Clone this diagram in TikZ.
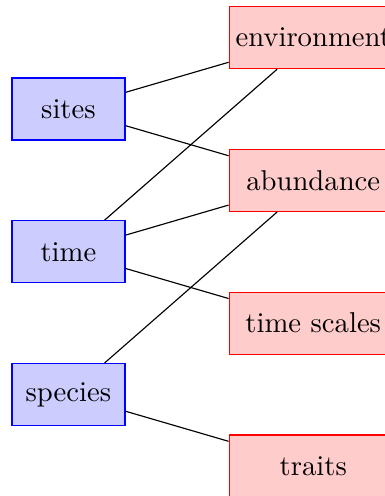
\documentclass[tikz,border=0pt]{standalone}
\usepackage{tikz}
\usetikzlibrary{positioning}

\tikzset{
  leftbox/.style={draw=blue,fill=blue!20,rectangle,minimum width=1.385cm,minimum height=0.76cm},
  rightbox/.style={draw=red,fill=red!20,rectangle,inner xsep=2pt,minimum width=2.06cm,minimum height=0.76cm}
}

\begin{document}
\begin{tikzpicture}
\useasboundingbox (-0.839,1.336) rectangle (3.879,-4.743);
\node[leftbox] (sites) at (0,0) {sites};
\node[leftbox] (time) at (0,-1.75) {time};
\node[leftbox] (species) at (0,-3.5) {species};
\node[rightbox] (env) at (3,0.875) {environment};
\node[rightbox] (abund) at (3,-0.875) {abundance};
\node[rightbox] (tscales) at (3,-2.625) {time scales};
\node[rightbox] (traits) at (3,-4.375) {traits};
\draw (sites) -- (env);
\draw (sites) -- (abund);
\draw (time) -- (env);
\draw (time) -- (abund);
\draw (time) -- (tscales);
\draw (species) -- (abund);
\draw (species) -- (traits);
\end{tikzpicture}
\end{document}
